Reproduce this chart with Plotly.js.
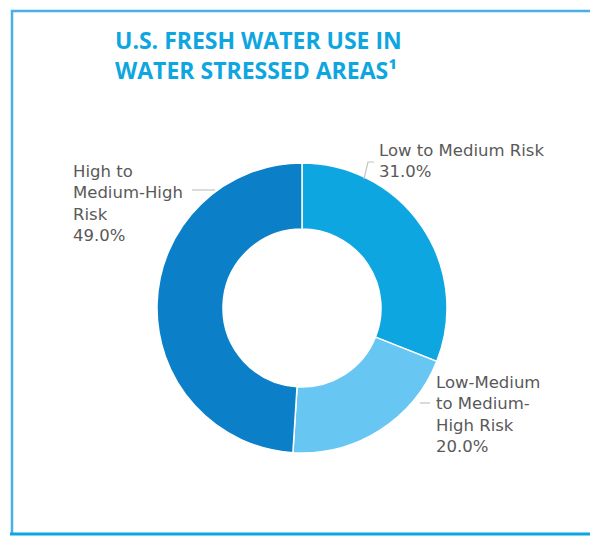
<!DOCTYPE html>
<html>
<head>
<meta charset="utf-8">
<script src="https://cdn.plot.ly/plotly-3.0.1.min.js"></script>
<style>html,body{margin:0;padding:0;background:#fff;}#chart{width:590px;height:539px;}</style>
</head>
<body>
<div id="chart"></div>
<script>
const categories = ["Low to Medium Risk", "Low-Medium to Medium-High Risk", "High to Medium-High Risk"];
const values = [31.0, 20.0, 49.0];
const labelTexts = ["Low to Medium Risk<br>31.0%", "Low-Medium<br>to Medium-<br>High Risk<br>20.0%", "High to<br>Medium-High<br>Risk<br>49.0%"];
const colors = ["#0ea6e0", "#68c6f2", "#0b7fc7"];

const W = 590, H = 539;
const px = x => x / W;
const py = y => 1 - y / H;

const cx = 302, cy = 308, R = 145;

const trace = {
  type: "pie",
  labels: categories,
  values: values,
  sort: false,
  direction: "clockwise",
  rotation: 0,
  hole: 0.545,
  textinfo: "none",
  hoverinfo: "label+percent",
  marker: {colors: colors, line: {color: "#ffffff", width: 1.5}},
  domain: {x: [px(cx - R), px(cx + R)], y: [py(cy + R), py(cy - R)]},
  showlegend: false
};

const labelPos = [[377, 161], [434, 414], [71, 203]];
const annotations = labelTexts.map((t, i) => ({
  text: t, xref: "paper", yref: "paper",
  x: px(labelPos[i][0]), y: py(labelPos[i][1]),
  xanchor: "left", yanchor: "middle", align: "left", showarrow: false,
  font: {family: "DejaVu Sans, sans-serif", size: 16.5, color: "#595959"}
}));
annotations.push({
  text: "<b>U.S. FRESH WATER USE IN<br>WATER STRESSED AREAS¹</b>",
  xref: "paper", yref: "paper", x: px(113), y: py(55),
  xanchor: "left", yanchor: "middle", align: "left", showarrow: false,
  font: {family: "Open Sans, sans-serif", size: 23, color: "#0ea6e0"}
});

const lineCol = "#c4c4c4";
const shapes = [
  {type: "path", xref: "paper", yref: "paper",
   path: `M ${px(374)},${py(162)} L ${px(368)},${py(162)} L ${px(364)},${py(179)}`,
   line: {color: lineCol, width: 1.2}},
  {type: "line", xref: "paper", yref: "paper", x0: px(192), x1: px(215), y0: py(190), y1: py(190), line: {color: lineCol, width: 1.2}},
  {type: "line", xref: "paper", yref: "paper", x0: px(420), x1: px(430), y0: py(403), y1: py(403), line: {color: lineCol, width: 1.2}},
  // frame
  {type: "line", xref: "paper", yref: "paper", x0: px(11), x1: px(592), y0: py(11), y1: py(11), line: {color: "#4aaee8", width: 2.5}},
  {type: "line", xref: "paper", yref: "paper", x0: px(12), x1: px(12), y0: py(10), y1: py(534), line: {color: "#4aaee8", width: 2.5}},
  {type: "line", xref: "paper", yref: "paper", x0: px(10), x1: px(592), y0: py(534), y1: py(534), line: {color: "#0aa8e2", width: 3}}
];

const layout = {
  width: W, height: H,
  margin: {l: 0, r: 0, t: 0, b: 0},
  paper_bgcolor: "#ffffff",
  plot_bgcolor: "#ffffff",
  annotations: annotations,
  shapes: shapes,
  showlegend: false
};

Plotly.newPlot("chart", [trace], layout, {displayModeBar: false, staticPlot: true});
</script>
</body>
</html>
